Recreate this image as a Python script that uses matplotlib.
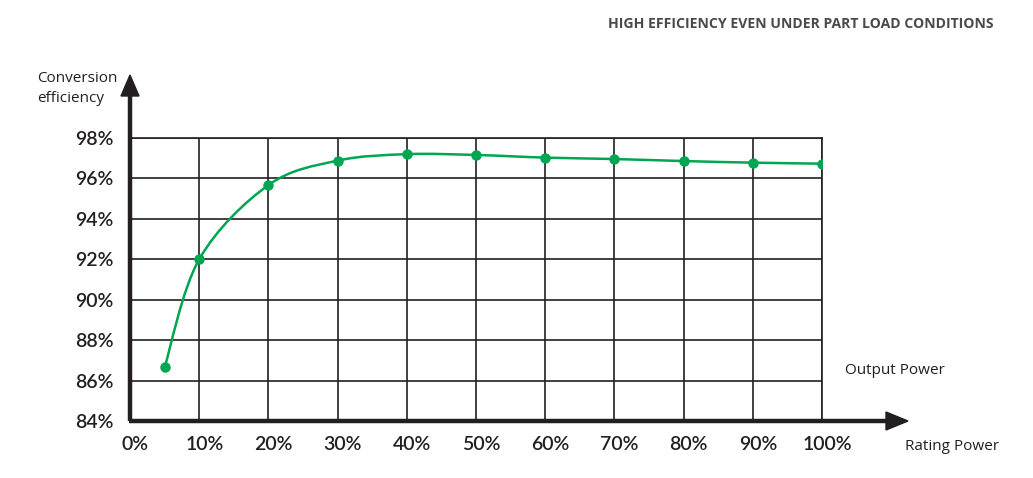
import numpy as np
import matplotlib
matplotlib.use("Agg")
import matplotlib.pyplot as plt
from matplotlib.path import Path
from matplotlib.patches import PathPatch
from matplotlib.transforms import ScaledTranslation

# ---- data ----
load_pct = [5, 10, 20, 30, 40, 50, 60, 70, 80, 90, 100]
efficiency = [86.65, 92.0, 95.67, 96.88, 97.2, 97.16, 97.03, 96.96, 96.86, 96.78, 96.73]
x_ticks = [0, 10, 20, 30, 40, 50, 60, 70, 80, 90, 100]
x_tick_labels = ["0%", "10%", "20%", "30%", "40%", "50%", "60%", "70%", "80%", "90%", "100%"]
y_ticks = [84, 86, 88, 90, 92, 94, 96, 98]
y_tick_labels = ["84%", "86%", "88%", "90%", "92%", "94%", "96%", "98%"]

W, H = 1033, 478
fig = plt.figure(figsize=(W / 100, H / 100), dpi=100)
L, R, T, B = 130, 822, 138, 421
ax = fig.add_axes([L / W, 1 - B / H, (R - L) / W, (B - T) / H])
ax.set_xlim(0, 100)
ax.set_ylim(84, 98)

DARK = "#231f20"
GREEN = "#00a651"

# grid
ax.set_xticks(x_ticks)
ax.set_yticks(y_ticks)
ax.grid(True, color=DARK, linewidth=1.2, zorder=1)
ax.tick_params(length=0)
ax.set_xticklabels(x_tick_labels, fontsize=14, fontfamily="Lato", fontweight="semibold", color=DARK)
ax.set_yticklabels(y_tick_labels, fontsize=14, fontfamily="Lato", fontweight="semibold", color=DARK)
ax.tick_params(axis="x", pad=11)
ax.tick_params(axis="y", pad=12)
shift = ScaledTranslation(5 / 100, 0, fig.dpi_scale_trans)
for lab in ax.get_xticklabels():
    lab.set_transform(lab.get_transform() + shift)
for s in ["top", "right"]:
    ax.spines[s].set_visible(True)
    ax.spines[s].set_linewidth(1.2)
    ax.spines[s].set_color(DARK)
for s in ["left", "bottom"]:
    ax.spines[s].set_visible(False)

# smooth curve through the data points (Catmull-Rom -> cubic Bezier)
xs = np.array(load_pct, dtype=float)
ys = np.array(efficiency, dtype=float)
verts = [(xs[0], ys[0])]
codes = [Path.MOVETO]
n = len(xs)
for i in range(n - 1):
    p0 = np.array([xs[max(i - 1, 0)], ys[max(i - 1, 0)]])
    p1 = np.array([xs[i], ys[i]])
    p2 = np.array([xs[i + 1], ys[i + 1]])
    p3 = np.array([xs[min(i + 2, n - 1)], ys[min(i + 2, n - 1)]])
    c1 = p1 + (p2 - p0) / 6.0
    c2 = p2 - (p3 - p1) / 6.0
    verts += [tuple(c1), tuple(c2), tuple(p2)]
    codes += [Path.CURVE4] * 3
ax.add_patch(PathPatch(Path(verts, codes), facecolor="none", edgecolor=GREEN,
                       linewidth=1.8, zorder=3))
ax.plot(load_pct, efficiency, "o", color=GREEN, markersize=6.5, zorder=4)

# axes arrows (figure pixel coordinates)
def fx(px):
    return px / W
def fy(py):
    return 1 - py / H

ax_line_kw = dict(color=DARK, linewidth=3.2, solid_capstyle="butt")
fig.add_artist(plt.Line2D([fx(130), fx(130)], [fy(421), fy(92)], **ax_line_kw))
fig.add_artist(plt.Line2D([fx(129), fx(890)], [fy(421), fy(421)], **ax_line_kw))
fig.add_artist(plt.Polygon([[fx(121), fy(96)], [fx(139), fy(96)], [fx(130), fy(75)]],
                           closed=True, color=DARK))
fig.add_artist(plt.Polygon([[fx(886), fy(412)], [fx(886), fy(430)], [fx(908), fy(421)]],
                           closed=True, color=DARK))

# texts
fig.text(fx(37), fy(78), "Conversion", fontsize=11, fontfamily="Open Sans",
         color=DARK, ha="left", va="center")
fig.text(fx(37), fy(99), "efficiency", fontsize=11, fontfamily="Open Sans",
         color=DARK, ha="left", va="center")
fig.text(fx(845), fy(371), "Output Power", fontsize=11, fontfamily="Open Sans",
         color=DARK, ha="left", va="center")
fig.text(fx(905), fy(446), "Rating Power", fontsize=11, fontfamily="Open Sans",
         color=DARK, ha="left", va="center")
fig.text(fx(994), fy(24), "HIGH EFFICIENCY EVEN UNDER PART LOAD CONDITIONS",
         fontsize=10.1, fontfamily="Open Sans", fontweight="bold",
         color="#4a4a4a", ha="right", va="center")

fig.savefig("out.png", dpi=100)
